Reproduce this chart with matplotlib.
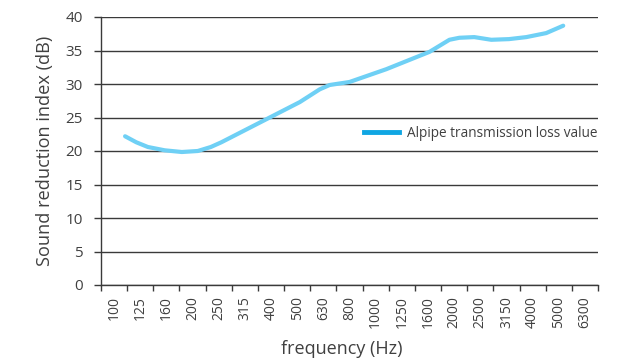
import matplotlib
matplotlib.use("Agg")
import matplotlib.pyplot as plt
from matplotlib.lines import Line2D
import numpy as np

plt.rcParams['font.family'] = ['Open Sans', 'DejaVu Sans']

freq_labels = ["100", "125", "160", "200", "250", "315", "400", "500", "630", "800",
               "1000", "1250", "1600", "2000", "2500", "3150", "4000", "5000", "6300"]
y_ticks = [0, 5, 10, 15, 20, 25, 30, 35, 40]

# curve position in frequency-band units (band centre = index) and value in dB
curve_pos = [0.42, 0.85, 1.29, 1.94, 2.59, 3.2, 3.7, 4.1, 5.0, 5.95, 7.1, 7.86,
             8.24, 9.0, 10.4, 12.06, 12.82, 13.2, 13.77, 14.42, 15.1, 15.76, 16.52, 17.17]
curve_db = [22.2, 21.3, 20.6, 20.1, 19.85, 20.0, 20.6, 21.3, 23.1, 25.0, 27.3, 29.2,
            29.85, 30.3, 32.2, 34.8, 36.6, 36.9, 37.0, 36.6, 36.7, 37.0, 37.6, 38.7]
series_name = "Alpipe transmission loss value"

text_col = "#404040"
grid_col = "#3a3a3a"

fig = plt.figure(figsize=(6.26, 3.59), dpi=100)
ax = fig.add_axes([101/626, 74/359, 497/626, 268/359])

ax.plot(curve_pos, curve_db, color="#6fd0f5", lw=3.0, solid_capstyle="round",
        solid_joinstyle="round", zorder=3)

n = len(freq_labels)
ax.set_xlim(-0.5, n - 0.5)
ax.set_ylim(0, 40)

ax.set_xticks(np.arange(n))
ax.set_xticklabels(freq_labels, rotation=90, fontsize=10, color=text_col)
ax.tick_params(axis="x", which="major", length=0, pad=8)
ax.set_xticks(np.arange(n + 1) - 0.5, minor=True)
ax.tick_params(axis="x", which="minor", length=4, width=1, color=grid_col)

ax.set_yticks(y_ticks)
ax.set_yticklabels([str(v) for v in y_ticks], fontsize=11, color=text_col)
ax.tick_params(axis="y", length=5, width=1, color=grid_col, pad=8)

ax.yaxis.grid(True, color=grid_col, lw=1.0)
ax.set_axisbelow(True)
for s in ["top", "right"]:
    ax.spines[s].set_visible(False)
for s in ["left", "bottom"]:
    ax.spines[s].set_color(grid_col)
    ax.spines[s].set_linewidth(1.0)

ax.set_xlabel("frequency (Hz)", fontsize=13, color=text_col)
ax.xaxis.set_label_coords(0.484, -0.205)
ax.set_ylabel("Sound reduction index (dB)", fontsize=13.1, color=text_col)
ax.yaxis.set_label_coords(-0.095, 0.5)

handle = Line2D([], [], color="#10a6e3", lw=3.5)
ax.legend([handle], [series_name], loc="center right", bbox_to_anchor=(1.005, 0.565),
          frameon=True, facecolor="white", edgecolor="none", framealpha=1,
          fontsize=9.8, handlelength=2.6, handletextpad=0.6, borderpad=0.2,
          borderaxespad=0.0, labelcolor=text_col)

fig.savefig("out.png", dpi=100, facecolor="white")
